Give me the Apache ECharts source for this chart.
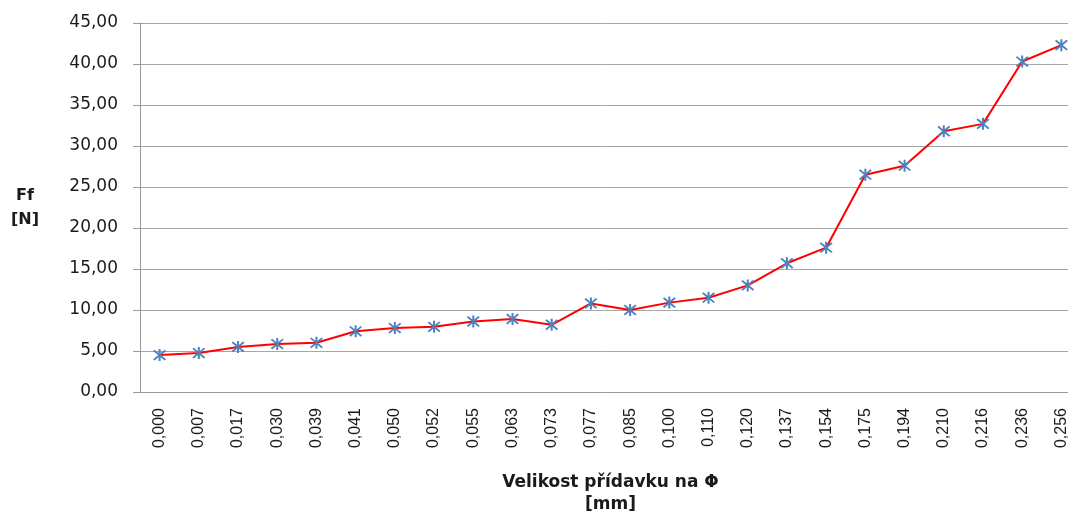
<!DOCTYPE html>
<html>
<head>
<meta charset="utf-8">
<script src="https://cdn.jsdelivr.net/npm/echarts@6/dist/echarts.min.js"></script>
<style>
  html, body { margin: 0; padding: 0; background: #fff; }
  #chart { width: 1068px; height: 511px; }
</style>
</head>
<body>
<div id="chart"></div>
<script>
// allowance on diameter [mm]
const categories = ['0,000', '0,007', '0,017', '0,030', '0,039', '0,041', '0,050', '0,052',
  '0,055', '0,063', '0,073', '0,077', '0,085', '0,100', '0,110', '0,120', '0,137', '0,154',
  '0,175', '0,194', '0,210', '0,216', '0,236', '0,256'];
// Ff [N]
const ffValues = [4.5, 4.75, 5.5, 5.85, 6.0, 7.4, 7.8, 7.95,
  8.6, 8.9, 8.2, 10.8, 10.0, 10.9, 11.5, 13.0, 15.7, 17.6,
  26.5, 27.6, 31.8, 32.7, 40.3, 42.3];
const yMin = 0;
const yMax = 45;
const yStep = 5;

// excel-like star marker (x + vertical bar)
const starPath = 'path://M8.6 0L11.4 0L11.4 20L8.6 20Z' +
  'M1 3L3 1L19 17L17 19Z' +
  'M17 1L19 3L3 19L1 17Z';

const chart = echarts.init(document.getElementById('chart'));
chart.setOption({
  animation: false,
  backgroundColor: '#fff',
  textStyle: { fontFamily: 'DejaVu Sans' },
  grid: {
    left: 140,
    right: -13,
    top: 23,
    bottom: 119,
    containLabel: false,
    outerBoundsMode: 'none'
  },
  xAxis: {
    type: 'category',
    data: categories,
    boundaryGap: true,
    name: 'Velikost přídavku na Φ\n[mm]',
    nameLocation: 'middle',
    nameGap: 80,
    nameTextStyle: {
      fontFamily: 'DejaVu Sans',
      fontWeight: 'bold',
      fontSize: 17,
      lineHeight: 22,
      color: '#1a1a1a'
    },
    axisLine: { lineStyle: { color: '#9a9a9a', width: 1 } },
    axisTick: { length: 7, lineStyle: { color: '#9a9a9a' } },
    axisLabel: {
      rotate: 90,
      margin: 16,
      interval: 0,
      fontFamily: 'Liberation Sans',
      fontSize: 16,
      color: '#1a1a1a'
    },
    splitLine: { show: false }
  },
  yAxis: {
    type: 'value',
    min: yMin,
    max: yMax,
    interval: yStep,
    name: 'Ff\n[N]',
    nameLocation: 'middle',
    nameRotate: 0,
    nameGap: 115,
    nameTextStyle: {
      fontFamily: 'DejaVu Sans',
      fontWeight: 'bold',
      fontSize: 16,
      lineHeight: 24,
      align: 'center',
      color: '#1a1a1a'
    },
    axisLine: { show: true, lineStyle: { color: '#9a9a9a', width: 1 } },
    axisTick: { show: true, length: 7, lineStyle: { color: '#9a9a9a' } },
    axisLabel: {
      margin: 22,
      fontFamily: 'DejaVu Sans',
      fontSize: 17,
      color: '#1a1a1a',
      formatter: v => v.toFixed(2).replace('.', ',')
    },
    splitLine: { lineStyle: { color: '#a6a6a6', width: 1 } }
  },
  series: [{
    type: 'line',
    data: ffValues,
    lineStyle: { color: '#ff0000', width: 2 },
    itemStyle: { color: '#4f81bd' },
    symbol: starPath,
    symbolSize: [13, 12],
    showAllSymbol: true,
    clip: false
  }]
});
</script>
</body>
</html>
